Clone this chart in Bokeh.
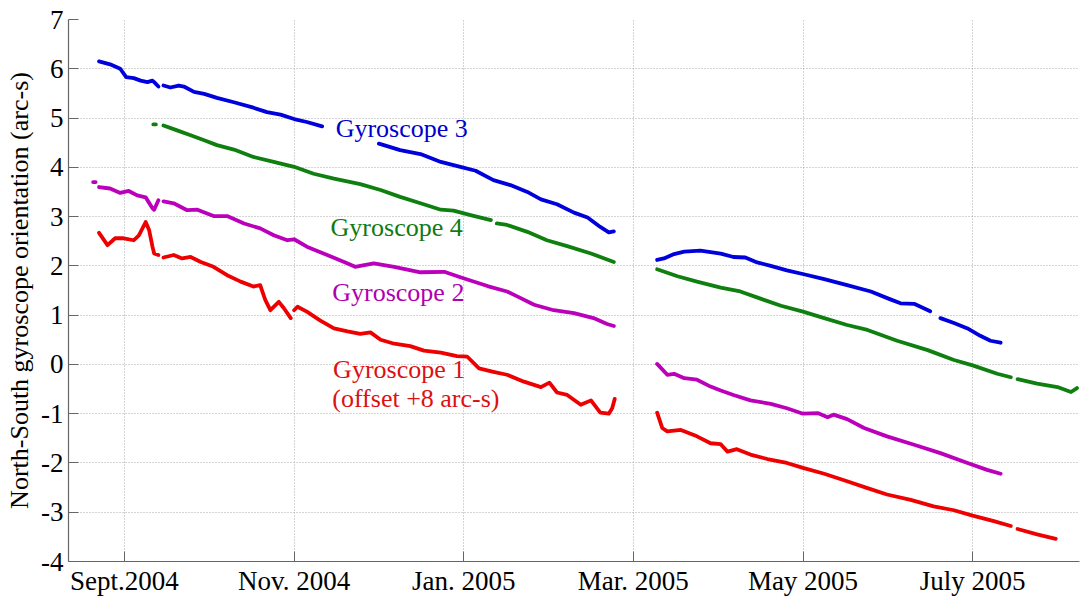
import numpy as np
from bokeh.plotting import figure
from bokeh.models import FixedTicker, Range1d, ColumnDataSource
from bokeh.core.properties import value
from bokeh.embed import file_html
from bokeh.resources import INLINE

nan = float("nan")

# x in months since 1 Sept 2004 (axis ticks every two months)
tick_months = [0, 2, 4, 6, 8, 10]
tick_labels = ["Sept.2004", "Nov. 2004", "Jan. 2005", "Mar. 2005", "May 2005", "July 2005"]
y_ticks = [-4, -3, -2, -1, 0, 1, 2, 3, 4, 5, 6, 7]

# Gyroscope 3 (blue)
g3_x = [-0.30, -0.17, -0.05, 0.02, 0.11, 0.19, 0.27, 0.33, 0.35, 0.40, nan,
        0.46, 0.54, 0.64, 0.70, 0.82, 0.94, 1.09, 1.29, 1.52, 1.68, 1.84, 2.00, 2.15, 2.33, nan,
        3.00, 3.25, 3.49, 3.73, 3.96, 4.14, 4.35, 4.55, 4.75, 4.91, 5.10, 5.30, 5.46, 5.61, 5.71, 5.77, nan,
        6.28, 6.36, 6.48, 6.60, 6.79, 7.03, 7.18, 7.32, 7.46, 7.62, 7.81, 8.01, 8.25, 8.52, 8.80, 9.03,
        9.15, 9.31, 9.50, nan,
        9.62, 9.78, 9.94, 10.09, 10.21, 10.33]
g3_y = [6.15, 6.09, 6.00, 5.83, 5.81, 5.76, 5.73, 5.76, 5.73, 5.64, nan,
        5.66, 5.62, 5.66, 5.64, 5.53, 5.49, 5.41, 5.32, 5.21, 5.12, 5.07, 4.98, 4.92, 4.83, nan,
        4.48, 4.35, 4.27, 4.11, 4.01, 3.93, 3.74, 3.64, 3.50, 3.35, 3.25, 3.08, 2.98, 2.79, 2.68, 2.70, nan,
        2.12, 2.15, 2.24, 2.29, 2.31, 2.25, 2.18, 2.17, 2.07, 2.00, 1.91, 1.83, 1.73, 1.61, 1.48, 1.32,
        1.24, 1.23, 1.08, nan,
        0.94, 0.84, 0.73, 0.58, 0.48, 0.44]

# Gyroscope 4 (green)
g4_x = [0.34, 0.37, nan,
        0.46, 0.62, 0.78, 0.94, 1.09, 1.29, 1.52, 1.76, 2.00, 2.23, 2.47, 2.78, 3.02, 3.25, 3.49, 3.73,
        3.88, 4.08, 4.32, nan,
        4.39, 4.51, 4.75, 4.98, 5.22, 5.50, 5.77, nan,
        6.28, 6.52, 6.75, 7.03, 7.26, 7.54, 7.74, 8.00, 8.25, 8.52, 8.76, 9.11, 9.47, 9.78, 10.00,
        10.29, 10.45, nan,
        10.53, 10.76, 11.00, 11.16, 11.23]
g4_y = [4.87, 4.87, nan,
        4.85, 4.75, 4.65, 4.55, 4.45, 4.36, 4.21, 4.11, 4.01, 3.87, 3.77, 3.66, 3.54, 3.40, 3.27, 3.14,
        3.12, 3.03, 2.93, nan,
        2.86, 2.83, 2.69, 2.52, 2.40, 2.25, 2.08, nan,
        1.93, 1.79, 1.68, 1.56, 1.48, 1.31, 1.19, 1.07, 0.94, 0.80, 0.70, 0.48, 0.29, 0.09, -0.02,
        -0.19, -0.26, nan,
        -0.30, -0.39, -0.46, -0.56, -0.48]

# Gyroscope 2 (magenta)
g2_x = [-0.37, -0.34, nan,
        -0.30, -0.17, -0.05, 0.05, 0.15, 0.25, 0.33, 0.35, 0.40, nan,
        0.46, 0.58, 0.74, 0.86, 1.05, 1.21, 1.41, 1.60, 1.76, 1.92, 2.00, 2.15, 2.39, 2.59, 2.72, 2.78,
        2.94, 3.18, 3.49, 3.77, 3.96, 4.28, 4.51, 4.63, 4.83, 5.06, 5.30, 5.53, 5.69, 5.77, nan,
        6.28, 6.40, 6.48, 6.60, 6.75, 6.91, 7.03, 7.18, 7.38, 7.62, 7.81, 8.00, 8.18, 8.29, 8.36,
        8.52, 8.72, 8.99, 9.31, 9.62, 9.94, 10.17, 10.33]
g2_y = [3.70, 3.70, nan,
        3.60, 3.57, 3.48, 3.52, 3.43, 3.39, 3.17, 3.14, 3.33, nan,
        3.31, 3.27, 3.13, 3.14, 3.01, 3.01, 2.86, 2.76, 2.62, 2.52, 2.54, 2.39, 2.22, 2.08, 1.98, 2.00,
        2.05, 1.98, 1.87, 1.88, 1.77, 1.59, 1.48, 1.38, 1.21, 1.10, 1.04, 0.94, 0.82, 0.78, nan,
        0.01, -0.21, -0.19, -0.28, -0.31, -0.45, -0.53, -0.62, -0.73, -0.80, -0.89, -1.00, -0.99, -1.07, -1.02,
        -1.11, -1.29, -1.46, -1.63, -1.80, -2.00, -2.14, -2.22]

# Gyroscope 1 (red, offset +8 arc-s)
g1_x = [-0.30, -0.20, -0.11, -0.01, 0.11, 0.17, 0.25, 0.29, 0.33, 0.35, 0.40, nan,
        0.46, 0.58, 0.68, 0.78, 0.90, 1.05, 1.21, 1.37, 1.52, 1.60, 1.66, 1.72, 1.82, 1.88, 1.96, nan,
        2.00, 2.04, 2.15, 2.31, 2.47, 2.63, 2.78, 2.90, 3.02, 3.18, 3.37, 3.53, 3.73, 3.92, 4.04,
        4.18, 4.35, 4.51, 4.71, 4.91, 5.01, 5.10, 5.22, 5.38, 5.50, 5.61, 5.71, 5.75, 5.78, nan,
        6.28, 6.34, 6.40, 6.56, 6.75, 6.91, 7.03, 7.11, 7.22, 7.38, 7.58, 7.81, 8.00, 8.25, 8.52,
        8.76, 8.99, 9.27, 9.54, 9.78, 10.00, 10.25, 10.45, nan,
        10.53, 10.76, 10.98]
g1_y = [2.67, 2.42, 2.56, 2.56, 2.52, 2.62, 2.89, 2.73, 2.39, 2.25, 2.22, nan,
        2.17, 2.22, 2.15, 2.18, 2.08, 1.98, 1.81, 1.68, 1.58, 1.61, 1.31, 1.10, 1.27, 1.14, 0.94, nan,
        1.10, 1.17, 1.07, 0.89, 0.73, 0.67, 0.62, 0.65, 0.50, 0.42, 0.37, 0.28, 0.24, 0.17, 0.16,
        -0.08, -0.15, -0.21, -0.35, -0.46, -0.37, -0.57, -0.62, -0.82, -0.73, -0.98, -1.00, -0.89, -0.70, nan,
        -0.98, -1.29, -1.36, -1.33, -1.46, -1.60, -1.62, -1.77, -1.72, -1.83, -1.92, -2.00, -2.10, -2.22, -2.37,
        -2.51, -2.64, -2.75, -2.88, -2.96, -3.07, -3.18, -3.28, nan,
        -3.34, -3.45, -3.54]

label_text = ["Gyroscope 3", "Gyroscope 4", "Gyroscope 2", "Gyroscope 1", "(offset +8 arc-s)"]
label_x = [2.49, 2.43, 2.45, 2.46, 2.45]
label_y = [4.79, 2.77, 1.45, -0.11, -0.70]
label_color = ["#0000CC", "#117a11", "#B000B0", "#DD1111", "#DD1111"]

FONT = "Liberation Serif"

p = figure(width=1081, height=598, output_backend="svg", toolbar_location=None,
           x_range=Range1d(-0.66, 11.26), y_range=Range1d(-4, 7),
           min_border_left=68, min_border_top=19, min_border_bottom=36, min_border_right=2)
p.outline_line_color = None
p.background_fill_color = "white"

series = [(g3_x, g3_y, "#0000DD"), (g4_x, g4_y, "#0f800f"),
          (g2_x, g2_y, "#BB00BB"), (g1_x, g1_y, "#EE0000")]
for xs, ys, c in series:
    p.line(xs, ys, line_color=c, line_width=3.8, line_join="round", line_cap="round")

src = ColumnDataSource(dict(x=label_x, y=label_y, t=label_text, c=label_color))
p.text(x="x", y="y", text="t", text_color="c", source=src,
       text_font=value(FONT), text_font_size="26px",
       text_align="left", text_baseline="middle")

# axes
p.xaxis.ticker = FixedTicker(ticks=tick_months)
p.xaxis.major_label_overrides = {t: l for t, l in zip(tick_months, tick_labels)}
p.yaxis.ticker = FixedTicker(ticks=y_ticks)
p.yaxis.major_label_overrides = {t: str(t) for t in y_ticks}
for ax in (p.xaxis[0], p.yaxis[0]):
    ax.major_label_text_font = FONT
    ax.major_label_text_font_size = "27px"
    ax.major_label_text_color = "black"
    ax.axis_line_color = "#666666"
    ax.axis_line_width = 1.2
    ax.major_tick_line_color = "#666666"
    ax.major_tick_in = 10
    ax.major_tick_out = 0
    ax.minor_tick_line_color = None
p.xaxis.major_label_standoff = 4
p.yaxis.major_label_standoff = 5
p.yaxis.axis_label = "North-South gyroscope orientation (arc-s)"
p.yaxis.axis_label_text_font = FONT
p.yaxis.axis_label_text_font_size = "26px"
p.yaxis.axis_label_text_font_style = "normal"
p.yaxis.axis_label_text_color = "black"
p.yaxis.axis_label_standoff = 4

p.xgrid.grid_line_color = "#a8a8a8"
p.ygrid.grid_line_color = "#a8a8a8"
p.xgrid.grid_line_dash = "1 2"
p.ygrid.grid_line_dash = "1 2"
p.xgrid.grid_line_width = 1
p.ygrid.grid_line_width = 1

open("out.html", "w").write(file_html(p, INLINE))
